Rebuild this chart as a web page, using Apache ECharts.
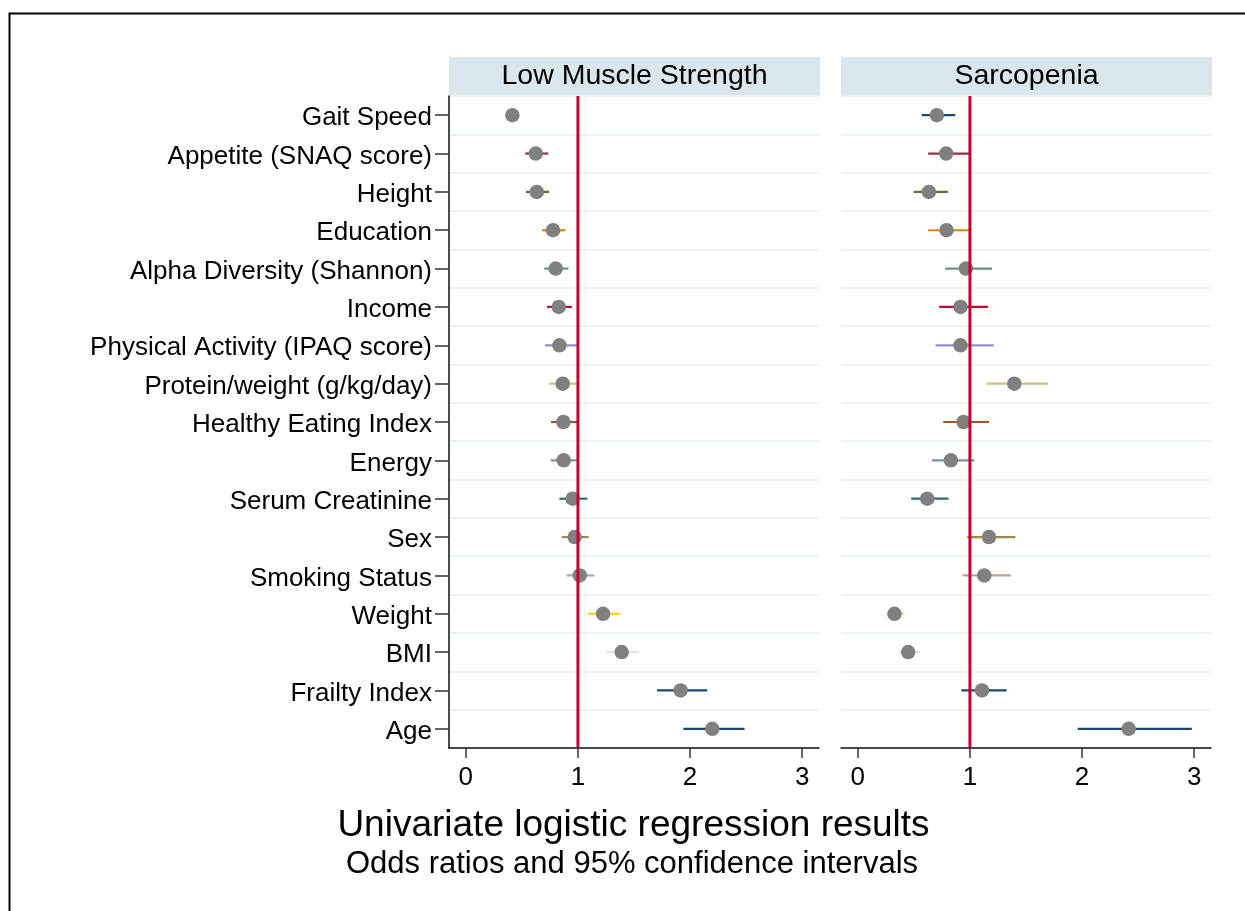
<!DOCTYPE html>
<html>
<head>
<meta charset="utf-8">
<script src="https://cdn.jsdelivr.net/npm/echarts@6/dist/echarts.min.js"></script>
<style>html,body{margin:0;padding:0;background:#fff;}#c{width:1245px;height:911px;}</style>
</head>
<body>
<div id="c"></div>
<script>
// ---- data (top to bottom) ----
var categories = ['Gait Speed','Appetite (SNAQ score)','Height','Education','Alpha Diversity (Shannon)','Income','Physical Activity (IPAQ score)','Protein/weight (g/kg/day)','Healthy Eating Index','Energy','Serum Creatinine','Sex','Smoking Status','Weight','BMI','Frailty Index','Age'];
var ciColors = ['#1a476f','#90353b','#55752f','#e37e00','#6e8e84','#c10534','#938dd2','#cac27e','#a0522d','#7b92a8','#2d6d66','#9c8847','#bfa19c','#ffd200','#d9e6eb','#1a476f','#1a476f'];
// Low Muscle Strength
var lmsOR = [0.415,0.624,0.633,0.778,0.802,0.829,0.835,0.864,0.870,0.873,0.953,0.971,1.016,1.224,1.390,1.916,2.198];
var lmsLo = [0.37,0.53,0.537,0.68,0.70,0.725,0.707,0.742,0.76,0.757,0.835,0.858,0.90,1.09,1.253,1.705,1.94];
var lmsHi = [0.46,0.736,0.742,0.888,0.915,0.945,0.992,1.007,0.992,1.004,1.084,1.096,1.146,1.381,1.545,2.153,2.486];
// Sarcopenia
var sarOR = [0.705,0.788,0.634,0.791,0.964,0.916,0.916,1.396,0.943,0.830,0.619,1.170,1.128,0.327,0.449,1.107,2.416];
var sarLo = [0.571,0.628,0.50,0.628,0.779,0.726,0.693,1.148,0.762,0.66,0.476,0.976,0.934,0.26,0.363,0.922,1.961];
var sarHi = [0.869,0.997,0.803,0.997,1.196,1.16,1.214,1.696,1.17,1.041,0.809,1.405,1.366,0.407,0.556,1.327,2.979];
var xTicks = [0,1,2,3];
var panelTitles = ['Low Muscle Strength','Sarcopenia'];
var titleText = 'Univariate logistic regression results';
var subtitleText = 'Odds ratios and 95% confidence intervals';
var refValue = 1;

var FONT = '"Liberation Sans", Arial, Helvetica, sans-serif';
var chart = echarts.init(document.getElementById('c'));

function xAxisCfg(g){
  return {
    gridIndex:g, type:'value', min:-0.15, max:3.15,
    axisLine:{show:true, onZero:false, lineStyle:{color:'#111', width:1.5}},
    axisTick:{show:true, length:10, customValues:xTicks, lineStyle:{color:'#333', width:1.5}},
    axisLabel:{customValues:xTicks, fontSize:26, color:'#000', margin:17, fontFamily:FONT},
    splitLine:{show:false}
  };
}
function yAxisCfg(g, showAxis){
  return {
    gridIndex:g, type:'category', data:categories, inverse:true,
    axisLine:{show:showAxis, onZero:false, lineStyle:{color:'#111', width:1.5}},
    axisTick:{show:showAxis, length:14, alignWithLabel:true, lineStyle:{color:'#333', width:1.5}},
    axisLabel:{show:showAxis, fontSize:26, color:'#000', margin:17, fontFamily:FONT, verticalAlign:'top', lineHeight:6},
    splitLine:{show:true, lineStyle:{color:'#eaf2f3', width:2}}
  };
}
function ciSeries(g, lo, hi){
  return {
    type:'custom', xAxisIndex:g, yAxisIndex:g, z:2,
    data: categories.map(function(c,i){ return [lo[i], hi[i], i]; }),
    encode:{x:[0,1], y:2},
    renderItem:function(params, api){
      var i = api.value(2);
      var p1 = api.coord([api.value(0), i]);
      var p2 = api.coord([api.value(1), i]);
      return {type:'line', shape:{x1:p1[0], y1:p1[1], x2:p2[0], y2:p2[1]},
              style:{stroke:ciColors[params.dataIndex], lineWidth:2.2}};
    }
  };
}
function ptSeries(g, or){
  return {
    type:'scatter', xAxisIndex:g, yAxisIndex:g, z:3,
    data: or.map(function(v,i){ return [v, i]; }),
    symbol:'circle', symbolSize:14.5,
    itemStyle:{color:'#808080', opacity:1},
    emphasis:{disabled:true}, silent:true
  };
}
function refSeries(g){
  return {
    type:'custom', xAxisIndex:g, yAxisIndex:g, z:10,
    data:[[refValue, 0]], encode:{x:0, y:1},
    renderItem:function(params, api){
      var cs = params.coordSys;
      var x = api.coord([api.value(0), 0])[0];
      return {type:'line', shape:{x1:x, y1:cs.y, x2:x, y2:cs.y+cs.height},
              style:{stroke:'#c10534', lineWidth:3}};
    }
  };
}

var option = {
  backgroundColor:'#fff',
  animation:false,
  grid:[
    {left:449, top:96, width:370, height:652, containLabel:false},
    {left:841, top:96, width:370, height:652, containLabel:false}
  ],
  xAxis:[xAxisCfg(0), xAxisCfg(1)],
  yAxis:[yAxisCfg(0,true), yAxisCfg(1,false)],
  series:[
    ciSeries(0, lmsLo, lmsHi), ptSeries(0, lmsOR), refSeries(0),
    ciSeries(1, sarLo, sarHi), ptSeries(1, sarOR), refSeries(1)
  ],
  graphic:[
    {type:'rect', silent:true, z:-1, shape:{x:9.5, y:13.5, width:2000, height:2000},
     style:{fill:'none', stroke:'#000', lineWidth:2}},
    {type:'rect', silent:true, shape:{x:449, y:57, width:371, height:39}, style:{fill:'#d9e6eb'}},
    {type:'text', silent:true, style:{text:panelTitles[0], x:634.5, y:76.5, align:'center', verticalAlign:'middle', fontSize:28.5, fontFamily:FONT, fill:'#000'}},
    {type:'rect', silent:true, shape:{x:841, y:57, width:371, height:39}, style:{fill:'#d9e6eb'}},
    {type:'text', silent:true, style:{text:panelTitles[1], x:1026.5, y:76.5, align:'center', verticalAlign:'middle', fontSize:28.5, fontFamily:FONT, fill:'#000'}},
    {type:'text', silent:true, style:{text:titleText, x:633.5, y:826, align:'center', verticalAlign:'middle', fontSize:37, fontFamily:FONT, fill:'#000'}},
    {type:'text', silent:true, style:{text:subtitleText, x:632, y:864, align:'center', verticalAlign:'middle', fontSize:31, fontFamily:FONT, fill:'#000'}}
  ]
};
chart.setOption(option);
</script>
</body>
</html>
